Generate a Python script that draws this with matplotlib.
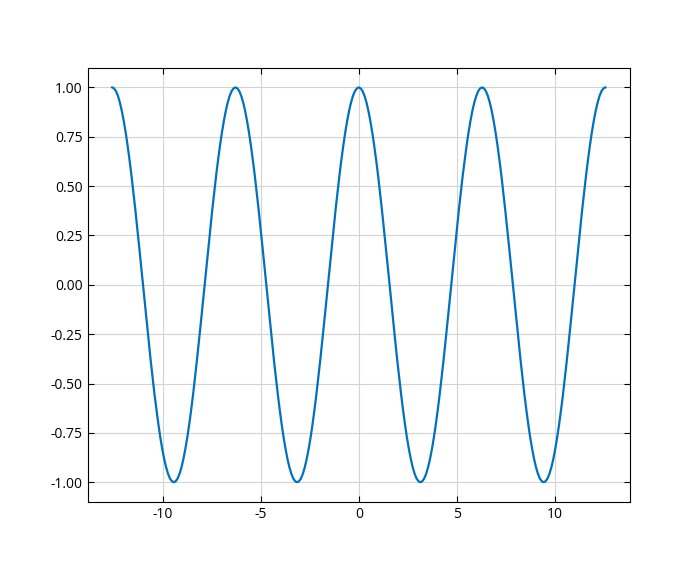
import matplotlib
matplotlib.use("Agg")
import matplotlib.pyplot as plt

plt.rcParams["font.family"] = ["Open Sans", "DejaVu Sans"]
plt.rcParams["axes.unicode_minus"] = False

# x samples (radians) and values
x_vals = [
    -12.566, -12.468, -12.370, -12.272, -12.174, -12.076, -11.977, -11.879,
    -11.781, -11.683, -11.585, -11.486, -11.388, -11.290, -11.192, -11.094,
    -10.996, -10.897, -10.799, -10.701, -10.603, -10.505, -10.407, -10.308,
    -10.210, -10.112, -10.014, -9.916, -9.817, -9.719, -9.621, -9.523,
    -9.425, -9.327, -9.228, -9.130, -9.032, -8.934, -8.836, -8.737,
    -8.639, -8.541, -8.443, -8.345, -8.247, -8.148, -8.050, -7.952,
    -7.854, -7.756, -7.658, -7.560, -7.461, -7.363, -7.265, -7.167,
    -7.069, -6.970, -6.872, -6.774, -6.676, -6.578, -6.480, -6.381,
    -6.283, -6.185, -6.087, -5.989, -5.890, -5.792, -5.694, -5.596,
    -5.498, -5.400, -5.301, -5.203, -5.105, -5.007, -4.909, -4.811,
    -4.712, -4.614, -4.516, -4.418, -4.320, -4.222, -4.123, -4.025,
    -3.927, -3.829, -3.731, -3.632, -3.534, -3.436, -3.338, -3.240,
    -3.142, -3.043, -2.945, -2.847, -2.749, -2.651, -2.553, -2.454,
    -2.356, -2.258, -2.160, -2.062, -1.963, -1.865, -1.767, -1.669,
    -1.571, -1.473, -1.374, -1.276, -1.178, -1.080, -0.982, -0.884,
    -0.785, -0.687, -0.589, -0.491, -0.393, -0.295, -0.196, -0.098,
    0.000, 0.098, 0.196, 0.295, 0.393, 0.491, 0.589, 0.687,
    0.785, 0.884, 0.982, 1.080, 1.178, 1.276, 1.374, 1.473,
    1.571, 1.669, 1.767, 1.865, 1.963, 2.062, 2.160, 2.258,
    2.356, 2.454, 2.553, 2.651, 2.749, 2.847, 2.945, 3.043,
    3.142, 3.240, 3.338, 3.436, 3.534, 3.632, 3.731, 3.829,
    3.927, 4.025, 4.123, 4.222, 4.320, 4.418, 4.516, 4.614,
    4.712, 4.811, 4.909, 5.007, 5.105, 5.203, 5.301, 5.400,
    5.498, 5.596, 5.694, 5.792, 5.890, 5.989, 6.087, 6.185,
    6.283, 6.381, 6.480, 6.578, 6.676, 6.774, 6.872, 6.970,
    7.069, 7.167, 7.265, 7.363, 7.461, 7.560, 7.658, 7.756,
    7.854, 7.952, 8.050, 8.148, 8.247, 8.345, 8.443, 8.541,
    8.639, 8.737, 8.836, 8.934, 9.032, 9.130, 9.228, 9.327,
    9.425, 9.523, 9.621, 9.719, 9.817, 9.916, 10.014, 10.112,
    10.210, 10.308, 10.407, 10.505, 10.603, 10.701, 10.799, 10.897,
    10.996, 11.094, 11.192, 11.290, 11.388, 11.486, 11.585, 11.683,
    11.781, 11.879, 11.977, 12.076, 12.174, 12.272, 12.370, 12.468,
    12.566,
]
y_vals = [
    1.000, 0.995, 0.981, 0.957, 0.924, 0.882, 0.831, 0.773,
    0.707, 0.634, 0.556, 0.471, 0.383, 0.290, 0.195, 0.098,
    0.000, -0.098, -0.195, -0.290, -0.383, -0.471, -0.556, -0.634,
    -0.707, -0.773, -0.831, -0.882, -0.924, -0.957, -0.981, -0.995,
    -1.000, -0.995, -0.981, -0.957, -0.924, -0.882, -0.831, -0.773,
    -0.707, -0.634, -0.556, -0.471, -0.383, -0.290, -0.195, -0.098,
    0.000, 0.098, 0.195, 0.290, 0.383, 0.471, 0.556, 0.634,
    0.707, 0.773, 0.831, 0.882, 0.924, 0.957, 0.981, 0.995,
    1.000, 0.995, 0.981, 0.957, 0.924, 0.882, 0.831, 0.773,
    0.707, 0.634, 0.556, 0.471, 0.383, 0.290, 0.195, 0.098,
    0.000, -0.098, -0.195, -0.290, -0.383, -0.471, -0.556, -0.634,
    -0.707, -0.773, -0.831, -0.882, -0.924, -0.957, -0.981, -0.995,
    -1.000, -0.995, -0.981, -0.957, -0.924, -0.882, -0.831, -0.773,
    -0.707, -0.634, -0.556, -0.471, -0.383, -0.290, -0.195, -0.098,
    0.000, 0.098, 0.195, 0.290, 0.383, 0.471, 0.556, 0.634,
    0.707, 0.773, 0.831, 0.882, 0.924, 0.957, 0.981, 0.995,
    1.000, 0.995, 0.981, 0.957, 0.924, 0.882, 0.831, 0.773,
    0.707, 0.634, 0.556, 0.471, 0.383, 0.290, 0.195, 0.098,
    0.000, -0.098, -0.195, -0.290, -0.383, -0.471, -0.556, -0.634,
    -0.707, -0.773, -0.831, -0.882, -0.924, -0.957, -0.981, -0.995,
    -1.000, -0.995, -0.981, -0.957, -0.924, -0.882, -0.831, -0.773,
    -0.707, -0.634, -0.556, -0.471, -0.383, -0.290, -0.195, -0.098,
    0.000, 0.098, 0.195, 0.290, 0.383, 0.471, 0.556, 0.634,
    0.707, 0.773, 0.831, 0.882, 0.924, 0.957, 0.981, 0.995,
    1.000, 0.995, 0.981, 0.957, 0.924, 0.882, 0.831, 0.773,
    0.707, 0.634, 0.556, 0.471, 0.383, 0.290, 0.195, 0.098,
    0.000, -0.098, -0.195, -0.290, -0.383, -0.471, -0.556, -0.634,
    -0.707, -0.773, -0.831, -0.882, -0.924, -0.957, -0.981, -0.995,
    -1.000, -0.995, -0.981, -0.957, -0.924, -0.882, -0.831, -0.773,
    -0.707, -0.634, -0.556, -0.471, -0.383, -0.290, -0.195, -0.098,
    0.000, 0.098, 0.195, 0.290, 0.383, 0.471, 0.556, 0.634,
    0.707, 0.773, 0.831, 0.882, 0.924, 0.957, 0.981, 0.995,
    1.000,
]
y_ticks = [-1.0, -0.75, -0.5, -0.25, 0.0, 0.25, 0.5, 0.75, 1.0]

fig, ax = plt.subplots(figsize=(7, 5.64), dpi=100)
ax.plot(x_vals, y_vals, color="#0072BD", linewidth=1.6)

ax.set_yticks(y_ticks)
ax.grid(True, color="#d3d3d3", linewidth=0.8)
ax.set_axisbelow(True)
ax.tick_params(direction="in", top=True, right=True, length=4, labelsize=10)

fig.savefig("out.png", dpi=100)
